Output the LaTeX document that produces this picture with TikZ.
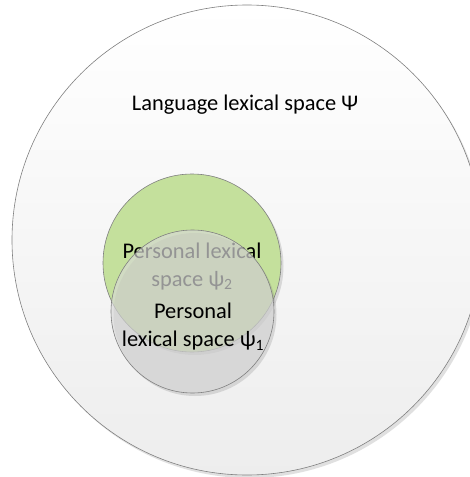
\documentclass[tikz,border=0pt]{standalone}
\usepackage{fontspec}
\setmainfont{Carlito}
\usetikzlibrary{shadows}
\definecolor{greenfill}{RGB}{196,224,156}
\definecolor{greyfill}{RGB}{217,217,217}
\definecolor{edge}{RGB}{128,128,128}
\begin{document}
\begin{tikzpicture}[x=1pt,y=1pt,
  setcircle/.style={circle, draw=edge, line width=0.6pt, inner sep=0pt},
  softshadow/.style={drop shadow={shadow xshift=2.5pt, shadow yshift=-3pt, opacity=0.2, fill=black!60}},
  lbl/.style={font=\fontsize{22.4}{28}\selectfont, align=center, text=black}]
\useasboundingbox (0,0) rectangle (470,-477);
\fill[white] (0,0) rectangle (470,-477);
\node[setcircle, minimum size=470pt, top color=white, bottom color=black!7, softshadow] (lang) at (247,-240) {};
\node[lbl] (langtxt) at (245,-105) {Language lexical space Ψ};
\node[setcircle, minimum size=178pt, fill=greenfill, softshadow] (p2) at (192,-263) {};
\node[lbl] (p2txt) at (192,-266.5) {Personal lexical\\space ψ\textsubscript{2}};
\node[setcircle, minimum size=163pt, fill=greyfill, fill opacity=0.65, softshadow] (p1) at (192.5,-311.5) {};
\node[lbl] (p1txt) at (193,-327) {Personal\\lexical space ψ\textsubscript{1}};
\end{tikzpicture}
\end{document}
